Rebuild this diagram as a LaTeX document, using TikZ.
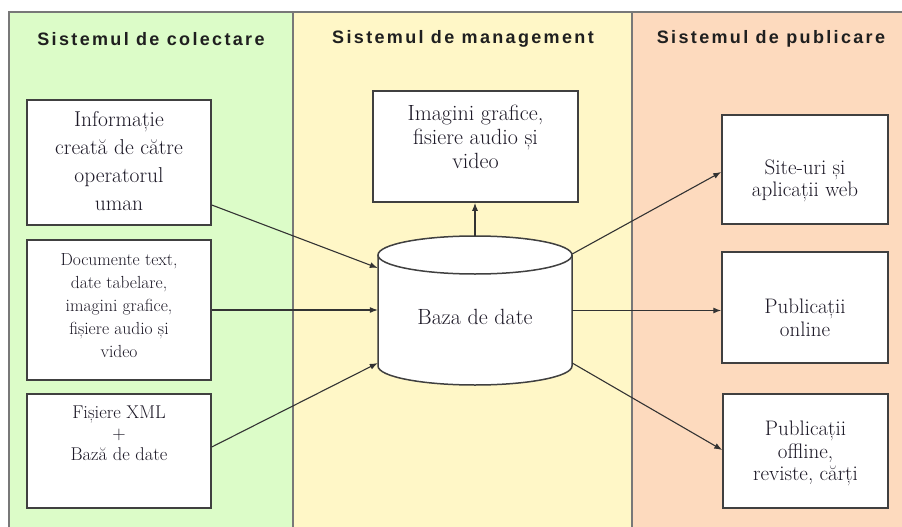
\documentclass[tikz,border=0pt]{standalone}
\usepackage{fontspec}
\newfontfamily\hdrfont[LetterSpace=13]{Liberation Sans}
\usetikzlibrary{arrows.meta}
\definecolor{cgreen}{RGB}{220,252,200}
\definecolor{cyellow}{RGB}{255,247,199}
\definecolor{cpeach}{RGB}{253,218,190}
\definecolor{frameline}{RGB}{120,120,120}
\definecolor{boxline}{RGB}{64,64,64}
\definecolor{txt}{RGB}{28,24,38}
\begin{document}
\begin{tikzpicture}[x=1pt,y=-1pt,
  hdr/.style={font=\hdrfont\bfseries\fontsize{18}{20}\selectfont, text=black!88},
  box/.style={draw=boxline, fill=white, line width=1.5pt, inner sep=0pt},
  lbl/.style={align=center, text=txt, inner sep=0pt},
  tbig/.style={lbl, font=\fontsize{21.5}{28}\selectfont},
  tmid/.style={lbl, font=\fontsize{22}{24}\selectfont},
  tsmall/.style={lbl, font=\fontsize{17.5}{23}\selectfont},
  tright/.style={lbl, font=\fontsize{21}{22.5}\selectfont},
  conn/.style={draw=black!80, line width=1.1pt, -{Latex[length=8pt,width=6pt]}},
  fr/.style={draw=frameline, line width=1.6pt}]
\useasboundingbox (0,0) rectangle (902,527);
% column backgrounds
\fill[white] (0,0) rectangle (902,527);
\fill[cgreen] (9,12) rectangle (293,527);
\fill[cyellow] (293,12) rectangle (632,527);
\fill[cpeach] (632,12) rectangle (902,527);
\draw[fr] (9,527) -- (9,12) -- (902,12);
\draw[fr] (293,12) -- (293,527);
\draw[fr] (632,12) -- (632,527);
% headers
\node[hdr] (h1) at (151,39) {Sistemul de colectare};
\node[hdr] (h2) at (463,39) {Sistemul de management};
\node[hdr] (h3) at (771,39) {Sistemul de publicare};
% left boxes
\node[box, minimum width=184pt, minimum height=125pt] (b1) at (119,162.5) {};
\node[tbig] (t1) at (119,161) {Informație\\creată de către\\operatorul\\uman};
\node[box, minimum width=184pt, minimum height=140pt] (b2) at (119,310) {};
\node[tsmall] (t2) at (119,306) {Documente text,\\date tabelare,\\imagini grafice,\\fișiere audio și\\video};
\node[box, minimum width=184pt, minimum height=114pt] (b3) at (119,451) {};
\node[lbl, font=\fontsize{18.5}{21}\selectfont] (t3) at (119,433) {Fișiere XML\\+\\Bază de date};
% middle box
\node[box, minimum width=205pt, minimum height=111pt] (m) at (475.5,146.5) {};
\node[tmid] (tm) at (475.5,137) {Imagini grafice,\\fisiere audio și\\video};
% cylinder
\draw[draw=boxline, fill=white, line width=1.5pt]
  (378,255) -- (378,366) arc[start angle=180, end angle=360, x radius=97pt, y radius=19pt]
  -- (572,255);
\draw[draw=boxline, fill=white, line width=1.5pt] (475,255) ellipse[x radius=97pt, y radius=19pt];
\node[minimum width=194pt, minimum height=111pt, inner sep=0pt] (db) at (475,310.5) {};
\coordinate (dbtop) at (475,236);
\node[tmid] (tdb) at (475,317) {Baza de date};
% right boxes
\node[box, minimum width=166pt, minimum height=109pt] (r1) at (805,169.5) {};
\node[tright] (tr1) at (805,181) {Site-uri și\\aplicații web};
\node[box, minimum width=166pt, minimum height=111pt] (r2) at (805,307.5) {};
\node[tright] (tr2) at (805,318) {Publicații\\online};
\node[box, minimum width=165pt, minimum height=114pt] (r3) at (805.5,451) {};
\node[tright] (tr3) at (805.5,453.5) {Publicații\\offline,\\reviste, cărți};
% connectors
\draw[conn] ([yshift=-42.5pt]b1.east) -- ([yshift=42.5pt]db.west);
\draw[conn] (b2.east) -- (b2.east -| db.west);
\draw[conn] ([yshift=4pt]b3.east) -- ([yshift=-52.5pt]db.west);
\draw[conn] (dbtop) -- (dbtop |- m.south);
\draw[conn] ([yshift=56.5pt]db.east) -- ([yshift=-2.5pt]r1.west);
\draw[conn] (db.east) -- (db.east -| r2.west);
\draw[conn] ([yshift=-52.5pt]db.east) -- ([yshift=1pt]r3.west);
\end{tikzpicture}
\end{document}
